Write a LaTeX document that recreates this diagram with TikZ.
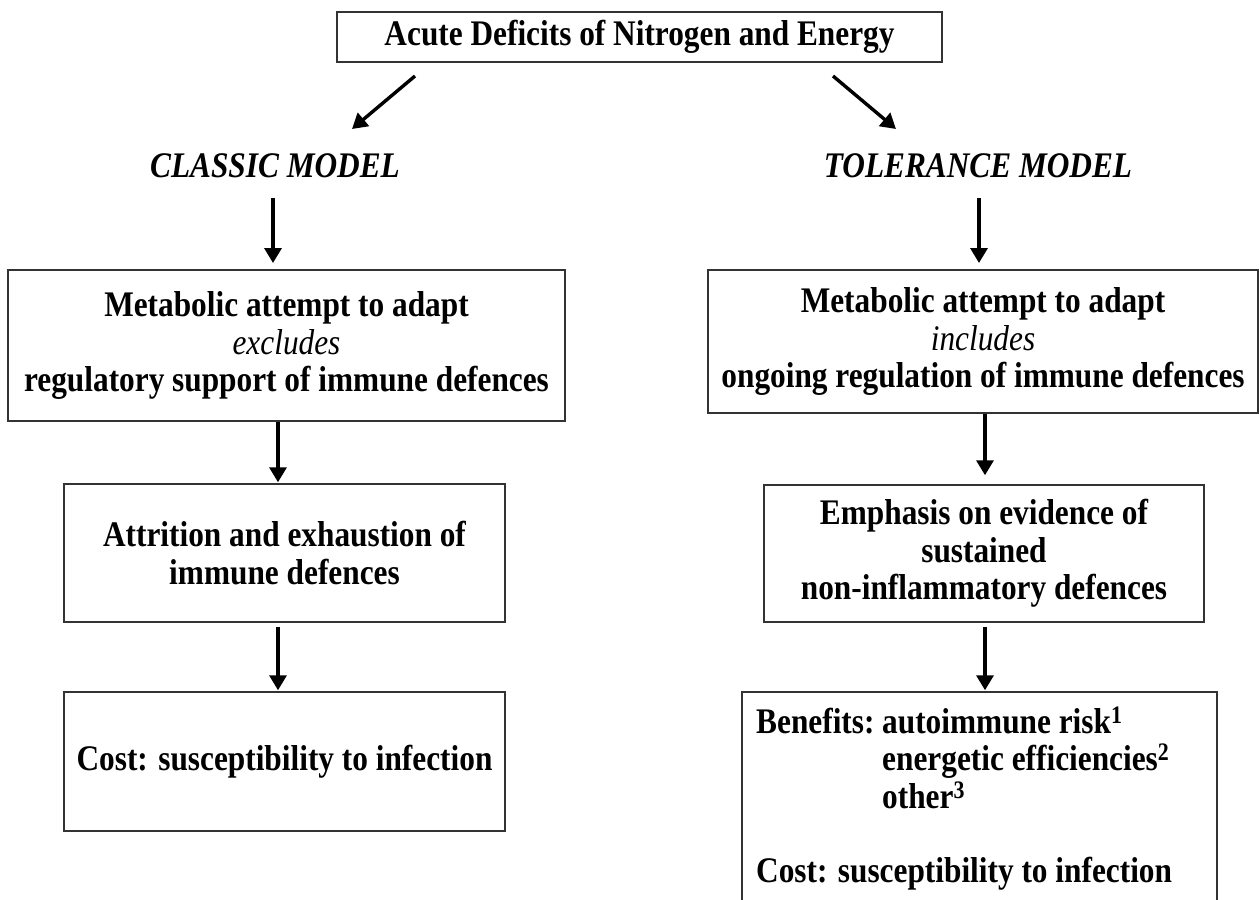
\documentclass[tikz,border=0pt]{standalone}
\usepackage{fontspec}
\setmainfont{Liberation Serif}[FakeStretch=0.87]
\usetikzlibrary{arrows.meta}
\tikzset{
  box/.style={draw=black!80, line width=1.5pt, inner sep=0pt, align=center,
              font=\fontsize{36}{37.5}\selectfont\bfseries},
  txt/.style={inner sep=0pt, font=\fontsize{36}{37.5}\selectfont\bfseries},
  arr/.style={line width=3.4pt, -{Triangle[length=15pt,width=17pt]}},
}
\begin{document}
\begin{tikzpicture}[x=1pt,y=-1pt]
\clip (0,0) rectangle (1259,900);
\fill[white] (0,0) rectangle (1259,900);

% top
\node[box, minimum width=605pt, minimum height=50pt] (top) at (639.5,37) {Acute Deficits of Nitrogen and Energy};

% model labels
\node[txt, anchor=base] (classic) at (275,177) {\itshape CLASSIC MODEL};
\node[txt, anchor=base] (tolerance) at (978,177) {\itshape TOLERANCE MODEL};

\coordinate (l1s) at (415,76); \coordinate (l1e) at (352,129);
\coordinate (r1s) at (833,76); \coordinate (r1e) at (896,129);
\draw[arr] (l1s) -- (l1e);
\draw[arr] (r1s) -- (r1e);

% left column
\node[box, minimum width=557pt, minimum height=151pt] (L2) at (286.5,345.5)
  {Metabolic attempt to adapt\\ {\mdseries\itshape excludes}\\ regulatory support of immune defences};
\node[box, minimum width=441pt, minimum height=138pt] (L3) at (284.5,553)
  {Attrition and exhaustion of\\immune defences};
\node[box, minimum width=441pt, minimum height=139pt] (L4) at (284.5,761.5)
  {Cost: susceptibility to infection};

% right column
\node[box, minimum width=550pt, minimum height=143pt] (R2) at (983,341.5)
  {Metabolic attempt to adapt\\ {\mdseries\itshape includes}\\ ongoing regulation of immune defences};
\node[box, minimum width=440pt, minimum height=137pt] (R3) at (984,553.5)
  {Emphasis on evidence of\\sustained\\non-inflammatory defences};
\node[box, minimum width=475pt, minimum height=240pt] (R4) at (979.5,812) {};

\node[txt, anchor=base west] (b1) at (756,733) {Benefits:};
\node[txt, anchor=base west] (b1b) at (882,733) {autoimmune risk\textsuperscript{1}};
\node[txt, anchor=base west] (b2) at (882,770) {energetic efficiencies\textsuperscript{2}};
\node[txt, anchor=base west] (b3) at (882,808) {other\textsuperscript{3}};
\node[txt, anchor=base west] (b4) at (756,882) {Cost: susceptibility to infection};

% vertical arrows
\coordinate (cA) at (273,198); \coordinate (cB) at (273,263);
\draw[arr] (cA) -- (cB);
\coordinate (tA) at (979,198); \coordinate (tB) at (979,263);
\draw[arr] (tA) -- (tB);

\coordinate (x1) at (278,0); \coordinate (x2) at (985,0);
\draw[arr] (L2.south -| x1) -- ([yshift=1pt]L3.north -| x1);
\draw[arr] ([yshift=-4pt]L3.south -| x1) -- ([yshift=1pt]L4.north -| x1);
\draw[arr] (R2.south -| x2) -- ([yshift=9pt]R3.north -| x2);
\draw[arr] ([yshift=-4pt]R3.south -| x2) -- ([yshift=1pt]R4.north -| x2);
\end{tikzpicture}
\end{document}
